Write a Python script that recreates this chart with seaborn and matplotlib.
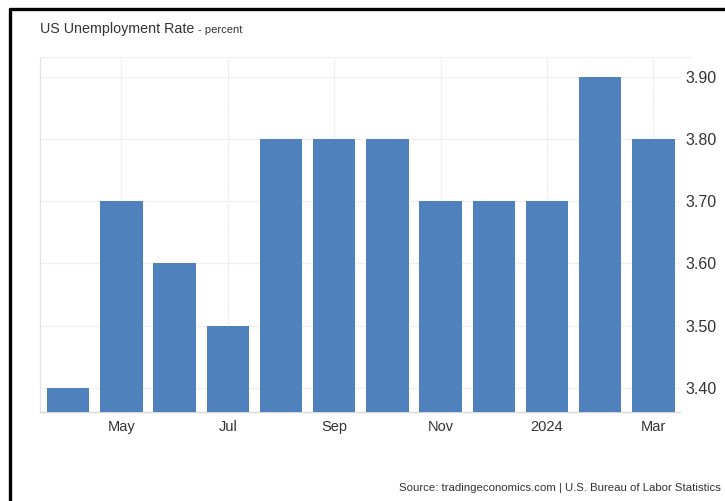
import matplotlib
matplotlib.use("Agg")
import matplotlib.pyplot as plt
from matplotlib.lines import Line2D
import seaborn as sns
import pandas as pd

# Monthly US unemployment rate, Apr 2023 - Mar 2024
months = ["Apr", "May", "Jun", "Jul", "Aug", "Sep", "Oct", "Nov", "Dec", "Jan", "Feb", "Mar"]
rates = [3.4, 3.7, 3.6, 3.5, 3.8, 3.8, 3.8, 3.7, 3.7, 3.7, 3.9, 3.8]
tick_labels = ["May", "Jul", "Sep", "Nov", "2024", "Mar"]
tick_positions = [1, 3, 5, 7, 9, 11]
y_ticks = [3.4, 3.5, 3.6, 3.7, 3.8, 3.9]

df = pd.DataFrame({"month": months, "rate": rates})

sns.set_theme(style="white")
plt.rcParams["font.family"] = ["Liberation Sans", "DejaVu Sans"]

fig = plt.figure(figsize=(7.25, 5.01), dpi=100)
fig.patch.set_facecolor("white")
ax = fig.add_axes([40 / 725, 1 - 412 / 501, 640 / 725, (412 - 57) / 501])

sns.barplot(data=df, x="month", y="rate", color="#4f81bd", saturation=1,
            width=0.8, linewidth=0, ax=ax, zorder=3)

ax.set_ylim(3.361, 3.932)
ax.set_xlim(-0.53, 11.5)

# grid
ax.set_yticks(y_ticks)
ax.set_xticks(tick_positions)
ax.set_xticklabels(tick_labels)
ax.grid(True, axis="both", color="#e3e3e3", linestyle=(0, (1, 1)), linewidth=0.9, zorder=0)
ax.set_axisbelow(True)

for side in ["top", "right"]:
    ax.spines[side].set_visible(False)
ax.spines["left"].set_color("#e3e3e3")
ax.spines["left"].set_linestyle((0, (1, 1)))
ax.spines["left"].set_linewidth(0.9)
ax.spines["bottom"].set_color("#d8d8d8")
ax.spines["bottom"].set_linewidth(1.0)

# top boundary line of the plotting region
ax.add_line(Line2D([0, 1.017], [1, 1], transform=ax.transAxes, color="#e3e3e3",
                   linestyle=(0, (1, 1)), linewidth=0.9, clip_on=False))

ax.yaxis.tick_right()
ax.set_yticklabels([f"{v:.2f}" for v in y_ticks])
ax.tick_params(axis="y", length=0, pad=4, labelsize=11.5, labelcolor="#333333")
ax.tick_params(axis="x", length=0, pad=6, labelsize=10.5, labelcolor="#333333")
ax.set_xlabel("")
ax.set_ylabel("")

# title and source
title = fig.text(40 / 725, 1 - 29 / 501, "US Unemployment Rate", fontsize=10.3,
                 color="#333333", va="center", ha="left")
renderer = fig.canvas.get_renderer()
tb = title.get_window_extent(renderer)
fig.text((tb.x1 + 4) / 725, 1 - 30 / 501, "- percent", fontsize=8,
         color="#333333", va="center", ha="left")
fig.text(721 / 725, 1 - 488 / 501,
         "Source: tradingeconomics.com | U.S. Bureau of Labor Statistics",
         fontsize=8.2, color="#333333", va="center", ha="right")

# outer frame (left and top edges)
fig.add_artist(Line2D([9.5 / 725, 9.5 / 725], [0, 1 - 8.5 / 501], transform=fig.transFigure,
                      color="black", linewidth=2.4))
fig.add_artist(Line2D([9.5 / 725, 1], [1 - 8.5 / 501, 1 - 8.5 / 501], transform=fig.transFigure,
                      color="black", linewidth=2.4))

fig.savefig("out.png", dpi=100)
